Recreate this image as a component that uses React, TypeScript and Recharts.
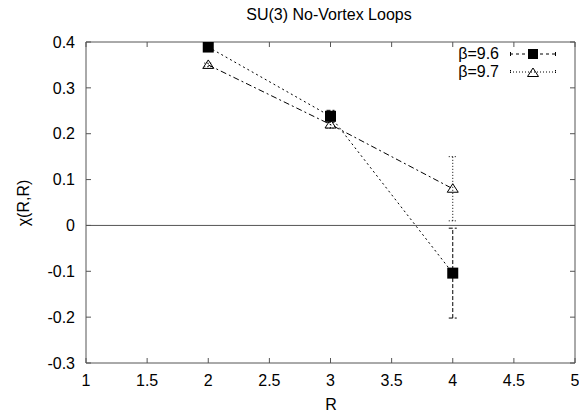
import React from "react";
import {
  ComposedChart,
  Line,
  XAxis,
  YAxis,
  ErrorBar,
  ReferenceLine,
  Legend,
} from "recharts";

const R_VALUES = [2, 3, 4];
const CHI_96 = [0.389, 0.238, -0.104];
const ERR_96 = [0.004, 0.013, 0.098];
const CHI_97 = [0.35, 0.22, 0.08];
const ERR_97 = [0.004, 0.008, 0.07];

const X_TICKS = [1, 1.5, 2, 2.5, 3, 3.5, 4, 4.5, 5];
const Y_TICKS = [-0.3, -0.2, -0.1, 0, 0.1, 0.2, 0.3, 0.4];

const SERIES_LABELS = ["β=9.6", "β=9.7"];

const data = R_VALUES.map((r, i) => ({
  R: r,
  b96: CHI_96[i],
  e96: ERR_96[i],
  b97: CHI_97[i],
  e97: ERR_97[i],
}));

const FONT = "'Liberation Sans', Arial, Helvetica, sans-serif";
const AXIS_COLOR = "#555";

const Square = ({ cx, cy, size = 11 }: any) => (
  <rect x={cx - size / 2} y={cy - size / 2} width={size} height={size} fill="#000" />
);

const Triangle = ({ cx, cy }: any) => (
  <polygon
    points={`${cx},${cy - 5} ${cx - 5.5},${cy + 3.5} ${cx + 5.5},${cy + 3.5}`}
    fill="none"
    stroke="#000"
    strokeWidth={1}
  />
);

// draws the x tick text itself so the label at the right edge is kept
const XTick = ({ x, y, payload }: any) => (
  <text x={x} y={y} dy="0.71em" textAnchor="middle" fontSize={16} fill="#000" fontFamily={FONT}>
    {String(payload.value)}
  </text>
);

function LegendBox() {
  const row = { display: "flex", alignItems: "center", height: 18 } as const;
  const txt = { width: 60, textAlign: "right" as const, marginRight: 11, fontSize: 16, lineHeight: "16px" };
  return (
    <div style={{ fontFamily: FONT, color: "#000" }}>
      <div style={row}>
        <span style={txt}>{SERIES_LABELS[0]}</span>
        <svg width={46} height={18}>
          <line x1={0} y1={9} x2={46} y2={9} stroke="#000" strokeDasharray="3 3" />
          <line x1={0.5} y1={7} x2={0.5} y2={11} stroke="#000" />
          <line x1={45.5} y1={7} x2={45.5} y2={11} stroke="#000" />
          <Square cx={23} cy={9} size={10} />
        </svg>
      </div>
      <div style={row}>
        <span style={txt}>{SERIES_LABELS[1]}</span>
        <svg width={46} height={18}>
          <line x1={0} y1={9} x2={46} y2={9} stroke="#000" strokeDasharray="1 2" />
          <line x1={0.5} y1={7} x2={0.5} y2={11} stroke="#000" strokeDasharray="1 1" />
          <line x1={45.5} y1={7} x2={45.5} y2={11} stroke="#000" strokeDasharray="1 1" />
          <Triangle cx={23} cy={10} />
        </svg>
      </div>
    </div>
  );
}

export default function App() {
  const tickStyle = { fontSize: 16, fill: "#000", fontFamily: FONT };
  return (
    <div style={{ position: "relative", width: 579, height: 416, fontFamily: FONT, background: "#fff" }}>
      <style>{"body{margin:0} svg.recharts-surface{overflow:visible !important}"}</style>
      <ComposedChart
        width={579}
        height={416}
        data={data}
        margin={{ top: 41, right: 3, bottom: 23, left: 36 }}
      >
        <XAxis
          xAxisId="b"
          dataKey="R"
          type="number"
          domain={[1, 5]}
          ticks={X_TICKS}
          interval={0}
          allowDataOverflow
          height={30}
          tick={<XTick />}
          tickFormatter={() => ""}
          tickSize={-5}
          tickMargin={17}
          stroke={AXIS_COLOR}
        />
        <XAxis
          xAxisId="t"
          orientation="top"
          dataKey="R"
          type="number"
          domain={[1, 5]}
          ticks={X_TICKS}
          interval={0}
          allowDataOverflow
          height={1}
          tickFormatter={() => ""}
          tickSize={-5}
          stroke={AXIS_COLOR}
        />
        <YAxis
          yAxisId="l"
          type="number"
          domain={[-0.3, 0.4]}
          ticks={Y_TICKS}
          interval={0}
          allowDataOverflow
          width={50}
          tick={tickStyle}
          tickSize={-5}
          tickMargin={16}
          stroke={AXIS_COLOR}
        />
        <YAxis
          yAxisId="r"
          orientation="right"
          type="number"
          domain={[-0.3, 0.4]}
          ticks={Y_TICKS}
          interval={0}
          allowDataOverflow
          width={1}
          tickFormatter={() => ""}
          tickSize={-5}
          stroke={AXIS_COLOR}
        />
        <ReferenceLine xAxisId="b" yAxisId="l" y={0} stroke={AXIS_COLOR} strokeWidth={1} />
        <Line
          xAxisId="b"
          yAxisId="l"
          dataKey="b96"
          stroke="#000"
          strokeWidth={1}
          strokeDasharray="2 3"
          type="linear"
          isAnimationActive={false}
          dot={(p: any) => <Square key={`s${p.index}`} cx={p.cx} cy={p.cy} />}
        >
          <ErrorBar dataKey="e96" width={4} stroke="#000" strokeWidth={1} strokeDasharray="4 2" direction="y" />
        </Line>
        <Line
          xAxisId="t"
          yAxisId="r"
          dataKey="b97"
          stroke="#000"
          strokeWidth={1}
          strokeDasharray="6 3 2 3"
          type="linear"
          isAnimationActive={false}
          dot={(p: any) => <Triangle key={`t${p.index}`} cx={p.cx} cy={p.cy} />}
        >
          <ErrorBar dataKey="e97" width={4} stroke="#000" strokeWidth={1} strokeDasharray="1 2" direction="y" />
        </Line>
        <Legend
          layout="horizontal"
          verticalAlign="middle"
          align="center"
          content={() => <LegendBox />}
          wrapperStyle={{ top: 45, left: 439, width: 130, height: 36 }}
        />
      </ComposedChart>
      <div
        style={{
          position: "absolute",
          left: 329,
          top: 7,
          transform: "translateX(-50%)",
          fontSize: 16,
          lineHeight: "16px",
          whiteSpace: "nowrap",
        }}
      >
        SU(3) No-Vortex Loops
      </div>
      <div
        style={{
          position: "absolute",
          left: 24,
          top: 203,
          transform: "translate(-50%, -50%) rotate(-90deg)",
          fontSize: 16,
          lineHeight: "16px",
          whiteSpace: "nowrap",
        }}
      >
        χ(R,R)
      </div>
      <div
        style={{
          position: "absolute",
          left: 331,
          top: 405,
          transform: "translate(-50%, -50%)",
          fontSize: 16,
          lineHeight: "16px",
        }}
      >
        R
      </div>
    </div>
  );
}
